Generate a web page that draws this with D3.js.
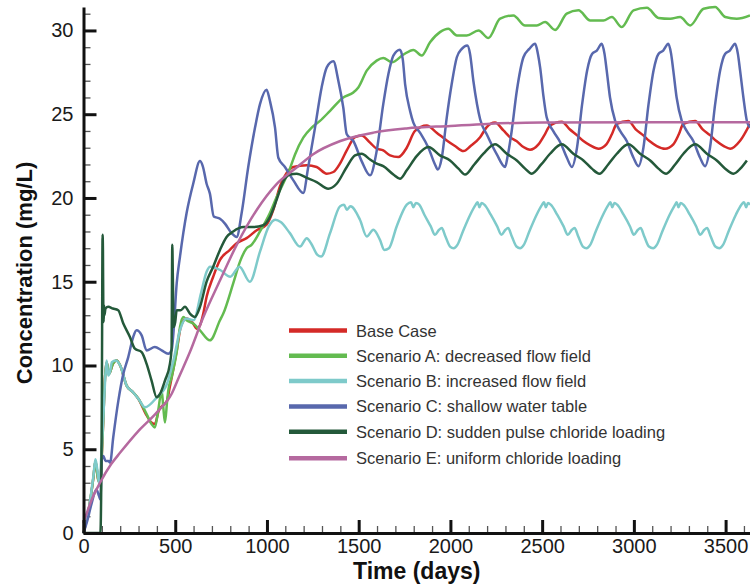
<!DOCTYPE html>
<html>
<head>
  <script src="https://cdn.jsdelivr.net/npm/d3@7"></script>
  <style>
    body { margin: 0; background: #fff; }
    svg { display: block; font-family: "Liberation Sans", Arial, sans-serif; }
  </style>
</head>
<body>
  <svg width="750" height="586"></svg>
<script>
  // [day, mg/L] pairs
  const baseCase = [[0,0],[30,1.5],[55,3.4],[65,4.3],[80,3.2],[90,3.0],[105,6.0],[118,9.4],[126,10.2],[140,9.5],[160,10.1],[180,10.3],[200,10.0],[235,8.8],[270,8.4],[300,8.0],[340,7.1],[370,6.6],[389,6.5],[410,7.3],[430,7.6],[455,7.9],[470,8.7],[490,9.8],[510,11.0],[530,12.3],[560,12.8],[598,12.5],[617,12.2],[635,12.4],[653,13.1],[671,14.1],[707,15.3],[744,16.3],[798,16.9],[835,17.3],[889,17.6],[944,18.07],[998,18.4],[1035,19.3],[1071,20.7],[1108,21.5],[1144,21.85],[1217,21.95],[1271,21.85],[1326,21.45],[1362,21.55],[1398,22.05],[1435,22.84],[1480,23.63],[1516,23.73],[1562,23.3],[1598,22.94],[1634,22.84],[1671,22.54],[1716,22.44],[1762,23.0],[1807,24.0],[1871,24.33],[1925,23.9],[1980,23.43],[2025,23.1],[2071,22.8],[2110,23.1],[2162,23.63],[2198,24.23],[2243,24.5],[2289,24.03],[2325,23.63],[2360,23.4],[2398,23.04],[2434,22.88],[2480,23.2],[2515,23.8],[2543,24.33],[2607,24.55],[2650,24.1],[2689,23.75],[2725,23.4],[2762,23.14],[2807,22.94],[2850,23.2],[2880,23.8],[2907,24.43],[2970,24.59],[3010,24.1],[3050,23.75],[3085,23.4],[3125,23.1],[3170,22.94],[3215,23.2],[3245,23.8],[3270,24.43],[3334,24.59],[3375,24.1],[3415,23.75],[3450,23.4],[3490,23.1],[3525,22.94],[3580,23.43],[3633,24.43]];

  const scenarioA = [[0,0],[30,1.5],[55,3.4],[65,4.3],[80,3.2],[90,3.0],[105,6.0],[118,9.4],[126,10.2],[140,9.5],[160,10.1],[180,10.3],[200,10.0],[235,8.8],[270,8.4],[300,8.0],[344,7.1],[371,6.5],[389,6.3],[407,7.3],[426,8.5],[435,7.5],[444,6.6],[456,7.9],[462,8.5],[480,9.3],[508,10.8],[526,12.3],[544,12.9],[562,12.7],[598,12.5],[635,12.1],[689,11.5],[744,12.7],[762,13.1],[816,14.9],[853,16.2],[889,17.0],[916,17.2],[962,18.0],[1016,19.1],[1053,20.05],[1090,20.9],[1125,21.75],[1153,22.6],[1198,23.6],[1244,24.2],[1289,24.6],[1344,25.2],[1416,26.0],[1471,26.3],[1498,26.6],[1544,27.6],[1598,28.2],[1634,28.36],[1680,28.1],[1743,28.55],[1798,28.84],[1843,28.5],[1889,29.3],[1943,29.9],[1989,30.1],[2035,29.7],[2089,29.7],[2153,30.0],[2207,29.55],[2271,30.7],[2343,30.9],[2407,30.3],[2471,30.3],[2516,30.5],[2571,30.03],[2634,31.0],[2698,31.2],[2762,30.6],[2834,30.6],[2880,30.8],[2934,30.2],[2998,31.2],[3071,31.35],[3134,30.75],[3198,30.7],[3252,30.8],[3307,30.3],[3380,31.3],[3443,31.4],[3498,30.8],[3561,30.7],[3633,30.9]];

  const scenarioB = [[0,0],[30,1.5],[55,3.5],[65,4.4],[75,3.8],[88,2.8],[96,4.4],[108,6.9],[120,9.5],[126,10.3],[135,9.4],[144,9.6],[155,10.2],[175,10.3],[200,10.0],[235,8.8],[270,8.4],[300,8.0],[335,7.5],[400,8.1],[455,8.9],[490,10.3],[526,12.1],[560,12.8],[600,12.7],[640,14.3],[671,15.6],[690,15.9],[745,15.7],[800,15.3],[850,15.9],[907,15.0],[962,16.8],[1010,18.3],[1045,18.7],[1075,18.56],[1125,17.9],[1180,17.1],[1217,17.6],[1240,17.3],[1275,16.6],[1295,16.5],[1344,17.9],[1398,19.5],[1420,19.6],[1435,19.3],[1455,19.5],[1507,18.7],[1544,17.7],[1580,18.1],[1616,17.5],[1640,16.9],[1665,17.0],[1707,18.3],[1762,19.6],[1785,19.75],[1798,19.45],[1812,19.7],[1830,19.6],
    [1858,19.0],[1893,18.3],[1916,17.8],[1938,18.1],[1953,18.2],[1973,17.7],[1998,17.1],[2018,17.0],[2038,17.2],[2068,18.0],[2108,19.0],[2138,19.6],
    [2148,19.75],[2158,19.45],[2170,19.7],[2185,19.6],[2220,19.0],[2255,18.3],[2278,17.8],[2300,18.1],[2315,18.2],[2335,17.7],[2360,17.1],[2380,17.0],[2400,17.2],[2430,18.0],[2470,19.0],[2500,19.6],
    [2510,19.75],[2520,19.45],[2532,19.7],[2547,19.6],[2582,19.0],[2617,18.3],[2640,17.8],[2662,18.1],[2677,18.2],[2697,17.7],[2722,17.1],[2742,17.0],[2762,17.2],[2792,18.0],[2832,19.0],[2862,19.6],
    [2872,19.75],[2882,19.45],[2894,19.7],[2909,19.6],[2944,19.0],[2979,18.3],[3000,17.8],[3022,18.1],[3037,18.2],[3057,17.7],[3082,17.1],[3105,17.0],[3125,17.2],[3155,18.0],[3195,19.0],[3225,19.6],
    [3233,19.75],[3243,19.45],[3255,19.7],[3270,19.6],[3305,19.0],[3340,18.3],[3362,17.8],[3384,18.1],[3399,18.2],[3419,17.7],[3444,17.1],[3466,17.0],[3486,17.2],[3516,18.0],[3556,19.0],[3586,19.6],
    [3600,19.75],[3612,19.45],[3622,19.7],[3633,19.6]];

  const scenarioC = [[0,0],[20,0.7],[45,1.8],[70,2.6],[85,2.2],[92,2.0],[100,4.4],[108,4.6],[120,4.3],[135,4.3],[145,4.2],[162,5.7],[190,7.9],[217,9.5],[244,10.5],[271,11.7],[289,12.1],[317,11.8],[344,10.9],[389,11.1],[426,10.9],[462,10.7],[480,10.9],[490,11.9],[508,14.9],[526,16.5],[562,19.1],[598,20.85],[635,22.2],[650,21.9],[671,20.85],[689,20.26],[710,18.9],[744,18.76],[771,18.47],[807,17.9],[835,17.67],[862,19.1],[898,21.85],[935,24.2],[962,25.6],[998,26.46],[1016,25.8],[1044,24.2],[1062,22.4],[1098,21.85],[1144,21.05],[1198,20.3],[1225,21.85],[1262,24.2],[1298,26.6],[1326,27.8],[1362,28.16],[1389,27.0],[1416,25.4],[1435,23.8],[1471,23.4],[1516,22.2],[1562,21.35],[1598,22.8],[1634,25.6],[1662,27.4],[1689,28.5],
    [1725,28.85],[1740,28.3],[1753,26.8],[1780,25.2],[1798,24.5],[1834,23.9],[1880,23.0],[1916,22.0],[1931,21.7],[1953,22.4],[1980,24.8],[2007,26.8],[2035,28.4],[2062,28.9],
    [2092,29.1],[2107,28.6],[2125,27.0],[2145,25.6],[2162,24.7],[2198,23.8],[2253,22.6],[2298,21.85],[2312,22.5],[2334,24.0],[2362,26.4],[2398,28.4],[2430,28.9],
    [2462,29.2],[2477,28.6],[2489,27.8],[2508,26.0],[2525,24.8],[2560,24.0],[2600,23.3],[2635,22.4],[2662,21.85],[2690,23.0],[2718,25.6],[2745,27.6],[2772,28.6],[2798,28.8],
    [2825,29.2],[2840,28.6],[2852,27.6],[2870,26.0],[2898,24.6],[2925,24.0],[2961,23.4],[2998,22.4],[3025,21.9],[3052,23.0],[3080,25.6],[3107,27.6],[3134,28.6],[3160,28.8],
    [3188,29.2],[3203,28.6],[3215,27.6],[3233,26.0],[3261,24.6],[3288,24.0],[3324,23.4],[3361,22.4],[3388,21.9],[3415,23.0],[3443,25.6],[3470,27.6],[3497,28.6],[3523,28.8],
    [3552,29.2],[3567,28.6],[3579,27.6],[3597,26.0],[3616,24.6],[3633,24.2]];

  const scenarioD = [[0,0],[92,0],[100,8.0],[104,17.8],[106,16.9],[108,13.3],[110,12.6],[112,13.6],[114,13.0],[120,13.4],[135,13.5],[160,13.4],[189,13.3],[217,12.5],[253,11.7],[280,11.0],[317,10.8],[344,10.1],[371,9.1],[399,8.1],[417,8.3],[444,9.1],[471,10.1],[480,11.0],[484,17.2],[487,15.3],[491,12.3],[500,12.6],[508,13.3],[530,13.3],[553,13.5],[580,13.1],[607,12.9],[635,13.5],[671,15.0],[707,15.9],[744,16.9],[780,17.67],[816,18.0],[871,18.26],[925,18.26],[980,18.37],[1016,18.86],[1053,19.9],[1089,21.0],[1125,21.4],[1162,21.45],[1217,21.2],[1271,20.95],[1334,20.55],[1380,20.85],[1435,21.85],[1480,22.54],[1516,22.64],[1562,22.3],[1598,22.05],[1634,21.9],[1689,21.4],[1725,21.15],[1762,21.65],[1816,22.5],[1880,23.04],[1943,22.54],[1998,22.24],[2044,21.75],[2080,21.4],[2130,22.0],[2180,22.64],[2243,23.2],[2307,22.64],[2362,22.24],[2407,21.75],[2443,21.45],[2495,22.0],[2543,22.64],[2607,23.2],[2670,22.64],[2725,22.24],[2771,21.75],[2812,21.45],[2860,22.0],[2907,22.64],[2970,23.2],[3034,22.64],[3089,22.24],[3134,21.75],[3176,21.45],[3225,22.0],[3270,22.64],[3334,23.2],[3398,22.64],[3452,22.24],[3498,21.75],[3543,21.45],[3580,21.75],[3616,22.24]];

  const scenarioE = [[0,0.6],[45,2.0],[90,3.0],[150,4.1],[200,4.8],[300,6.1],[400,7.2],[480,8.3],[520,9.3],[580,10.8],[650,12.8],[745,15.1],[835,17.2],[945,19.3],[1050,20.8],[1160,21.8],[1250,22.6],[1400,23.4],[1580,23.9],[1760,24.15],[2000,24.3],[2200,24.42],[2500,24.5],[3633,24.52]];

  const seriesNames = ['Base Case', 'Scenario A: decreased flow field', 'Scenario B: increased flow field',
    'Scenario C: shallow water table', 'Scenario D: sudden pulse chloride loading', 'Scenario E: uniform chloride loading'];
  const seriesData = [baseCase, scenarioA, scenarioB, scenarioC, scenarioD, scenarioE];
  const colors = ['#d42a27', '#63bb50', '#7ecaca', '#5868ad', '#24593a', '#b5699f'];

  const xTicks = [0, 500, 1000, 1500, 2000, 2500, 3000, 3500];
  const yTicks = [0, 5, 10, 15, 20, 25, 30];

  const plotLeft = 83.5, plotRight = 750, plotTop = 7, plotBottom = 533;

  const svg = d3.select('svg');

  const xScale = d3.scaleLinear().domain([0, 3633]).range([plotLeft, plotRight]);
  const yScale = d3.scaleLinear().domain([0, 31.4]).range([plotBottom, plotTop]);

  //minor ticks
  svg.append('g')
    .attr('transform', `translate(0, ${plotBottom})`)
    .call(d3.axisBottom(xScale).tickValues(d3.range(100, 3633, 100)).tickSize(-7).tickFormat(''))
    .call(g => g.select('.domain').remove())
    .call(g => g.selectAll('line').attr('stroke', '#555').attr('stroke-width', 1.3));
  svg.append('g')
    .attr('transform', `translate(${plotLeft}, 0)`)
    .call(d3.axisLeft(yScale).tickValues(d3.range(1, 32, 1)).tickSize(-7).tickFormat(''))
    .call(g => g.select('.domain').remove())
    .call(g => g.selectAll('line').attr('stroke', '#555').attr('stroke-width', 1.3));

  //lines
  const line = d3.line()
    .x(d => xScale(d[0]))
    .y(d => yScale(d[1]))
    .curve(d3.curveMonotoneX);

  seriesData.forEach((data, i) => {
    svg.append('path')
      .datum(data)
      .attr('fill', 'none')
      .attr('stroke', colors[i])
      .attr('stroke-width', 2.5)
      .attr('stroke-linejoin', 'round')
      .attr('d', line);
  });

  //major axes
  const xAxis = svg.append('g')
    .attr('transform', `translate(0, ${plotBottom})`)
    .call(d3.axisBottom(xScale).tickValues(xTicks).tickFormat(d3.format('d'))
      .tickSize(-13).tickSizeOuter(0).tickPadding(6));
  const yAxis = svg.append('g')
    .attr('transform', `translate(${plotLeft}, 0)`)
    .call(d3.axisLeft(yScale).tickValues(yTicks).tickFormat(d3.format('d'))
      .tickSize(-13).tickSizeOuter(0).tickPadding(10));

  [xAxis, yAxis].forEach(g => {
    g.select('.domain').attr('stroke', '#111').attr('stroke-width', 3);
    g.selectAll('.tick line').attr('stroke', '#111').attr('stroke-width', 3);
    g.selectAll('.tick text')
      .attr('fill', '#1a1a1a')
      .style('font-size', '20px')
      .style('font-family', '"Liberation Sans", Arial, sans-serif');
  });

  //axis titles
  svg.append('text')
    .attr('x', (plotLeft + plotRight) / 2)
    .attr('y', 579)
    .attr('text-anchor', 'middle')
    .style('font-size', '23px')
    .style('font-weight', 'bold')
    .attr('fill', '#111')
    .text('Time (days)');

  svg.append('text')
    .attr('transform', 'translate(32, 273) rotate(-90)')
    .attr('text-anchor', 'middle')
    .style('font-size', '22px')
    .style('font-weight', 'bold')
    .attr('fill', '#111')
    .text('Concentration (mg/L)');

  //legend
  const legend = svg.append('g').attr('transform', 'translate(289, 330.5)');
  seriesNames.forEach((name, i) => {
    const row = legend.append('g').attr('transform', `translate(0, ${i * 25.3 + (i === 5 ? 1.3 : 0)})`);
    row.append('line')
      .attr('x1', 0).attr('x2', 58)
      .attr('stroke', colors[i])
      .attr('stroke-width', 4.5);
    row.append('text')
      .attr('x', 67)
      .attr('y', 6)
      .style('font-size', '16.5px')
      .attr('fill', '#333')
      .text(name);
  });
</script>
</body>
</html>
